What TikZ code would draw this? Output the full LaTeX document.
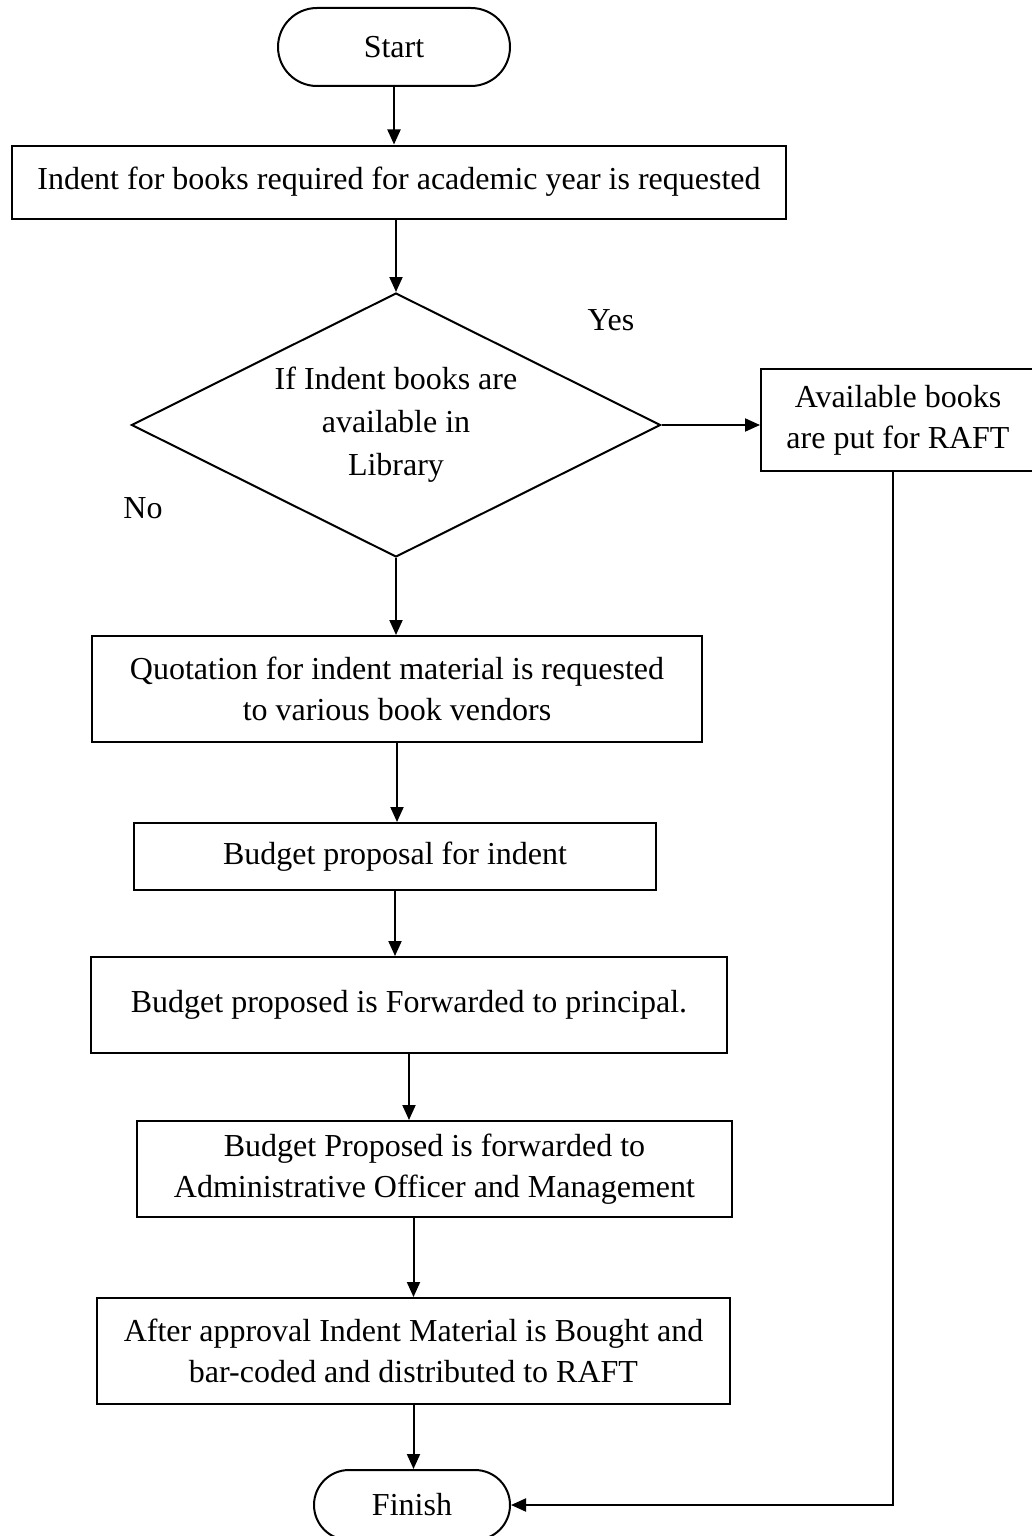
\documentclass[tikz,border=0pt]{standalone}
\usepackage{fontspec}
\setmainfont{Liberation Serif}
\usetikzlibrary{shapes.geometric,shapes.misc,arrows.meta}

\begin{document}
\begin{tikzpicture}[x=0.5pt,y=-0.5pt,
  font=\fontsize{16}{20.5}\selectfont,
  every node/.style={line width=1pt,align=center,inner sep=0pt},
  box/.style={draw,rectangle},
  term/.style={draw,rounded rectangle},
  decide/.style={draw,diamond,shape aspect=2},
  arr/.style={line width=1pt,-{Triangle[length=7.5pt,width=6.5pt]}}]
  \useasboundingbox (0,0) rectangle (1032,1536);

  % terminals
  \node[term,minimum width=116pt,minimum height=39pt] (start) at (394,47) {Start};
  \node[term,minimum width=98pt,minimum height=35pt] (finish) at (412,1505) {Finish};

  % process steps
  \node[box,minimum width=387pt,minimum height=36.5pt] (indent) at (399,182)
    {Indent for books required for academic year is requested};
  \node[decide,minimum width=264.5pt,minimum height=132pt,
    font=\fontsize{16}{21.5}\selectfont] (avail) at (396,425)
    {If Indent books are\\available in\\Library};
  \node[box,minimum width=137pt,minimum height=51pt] (put) at (898,420)
    {Available books\\are put for RAFT};
  \node[box,minimum width=305pt,minimum height=53pt] (quote) at (397,689)
    {Quotation for indent material is requested\\to various book vendors};
  \node[box,minimum width=261pt,minimum height=33.5pt] (budget) at (395,856.5)
    {Budget proposal for indent};
  \node[box,minimum width=318pt,minimum height=48pt] (principal) at (409,1005)
    {Budget proposed is Forwarded to principal.};
  \node[box,minimum width=297.5pt,minimum height=48pt] (admin) at (434.5,1169)
    {Budget Proposed is forwarded to\\Administrative Officer and Management};
  \node[box,minimum width=316.5pt,minimum height=53pt] (approve) at (413.5,1351)
    {After approval Indent Material is Bought and\\bar-coded and distributed to RAFT};

  % labels on the decision
  \node (yes) at (611,320) {Yes};
  \node (no) at (143,508) {No};

  % connectors
  \draw[arr] (start.south) -- (start.south |- indent.north);
  \draw[arr] (avail.north |- indent.south) -- (avail.north);
  \draw[arr] (avail.south) -- (avail.south |- quote.north);
  \draw[arr] (avail.east) -- (avail.east -| put.west);
  \draw[arr] (quote.south) -- (quote.south |- budget.north);
  \draw[arr] (budget.south) -- (budget.south |- principal.north);
  \draw[arr] (principal.south) -- (principal.south |- admin.north);
  \draw[arr] (approve.north |- admin.south) -- (approve.north);
  \draw[arr] (approve.south) -- (approve.south |- finish.north);
  \draw[arr] ([xshift=-2.5pt]put.south) |- (finish.east);
\end{tikzpicture}
\end{document}
